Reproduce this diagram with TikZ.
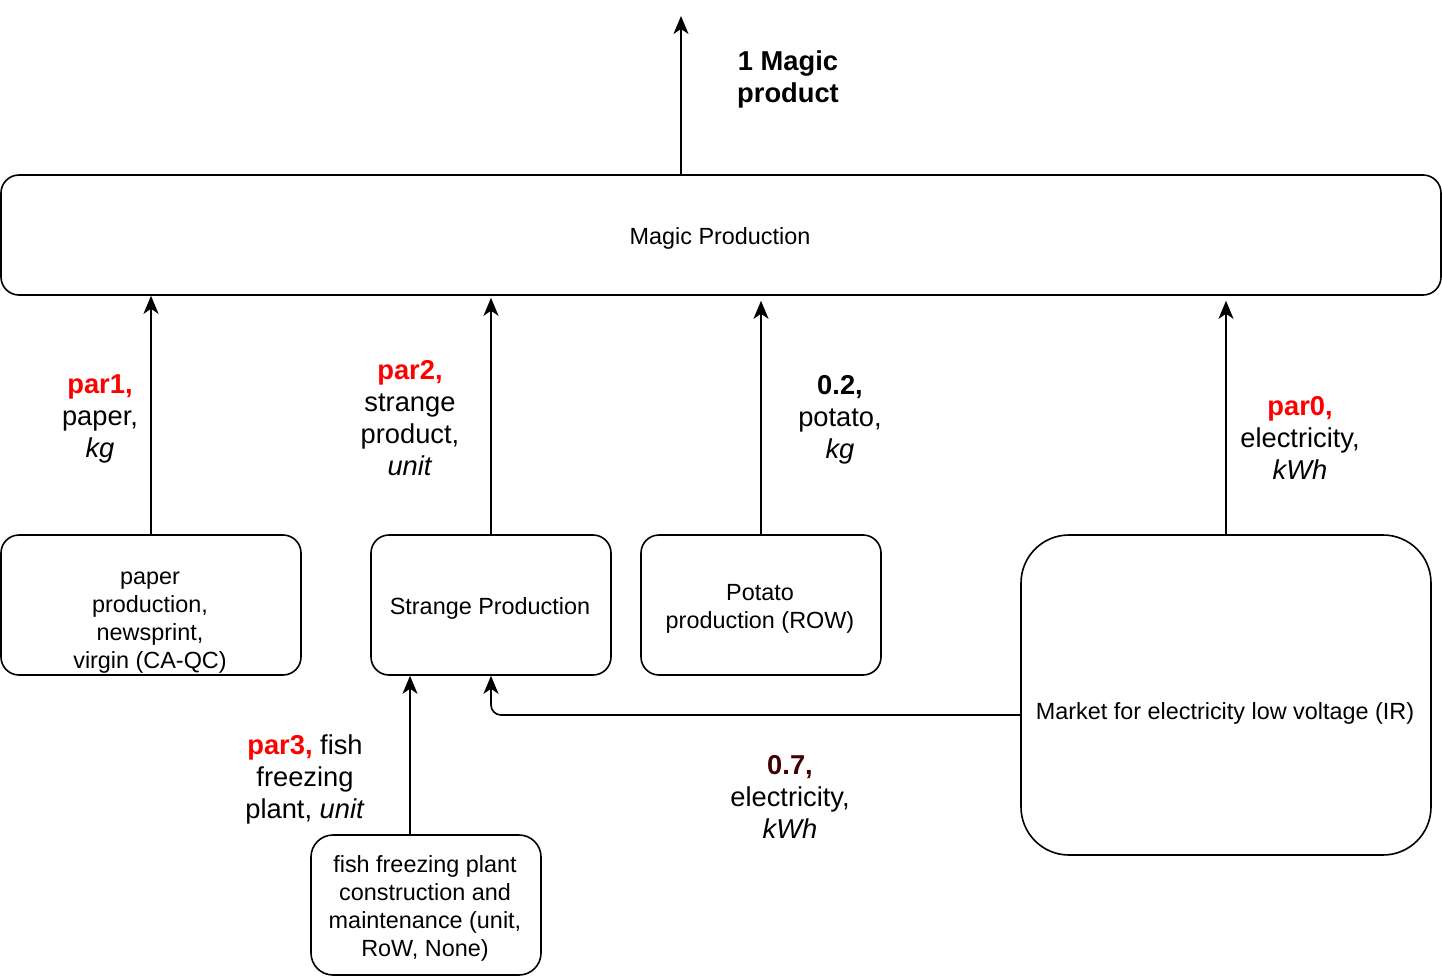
\documentclass[tikz,border=0pt]{standalone}
\usepackage{fontspec}
\setmainfont{Liberation Sans}
\usetikzlibrary{arrows.meta}
\definecolor{parred}{RGB}{255,0,0}
\definecolor{darkred}{RGB}{64,0,0}
\begin{document}
\begin{tikzpicture}[x=1pt,y=-1pt,
  box/.style={draw=black,line width=1.6pt,rounded corners=18pt,inner sep=0pt,align=center,font=\fontsize{23.4}{28}\selectfont},
  boxtext/.style={inner sep=0pt,align=center,font=\fontsize{23.4}{28}\selectfont},
  lbl/.style={inner sep=0pt,align=center,font=\fontsize{27.3}{32}\selectfont},
  arr/.style={line width=1.6pt,-{Stealth[length=18pt,width=15pt,inset=5pt]}}]
\useasboundingbox (0,0) rectangle (1442,976);
% boxes
\node[box,minimum width=1440pt,minimum height=120pt] (magic) at (721,235) {};
\node[boxtext] (magictext) at (720,238) {Magic Production};
\node[box,minimum width=300pt,minimum height=140pt] (paper) at (151,605) {};
\node[boxtext] (papertext) at (150,623) {paper\\production,\\newsprint,\\virgin (CA-QC)};
\node[box,minimum width=240pt,minimum height=140pt] (strange) at (491,605) {};
\node[boxtext] (strangetext) at (490,608) {Strange Production};
\node[box,minimum width=240pt,minimum height=140pt] (potato) at (761,605) {};
\node[boxtext] (potatotext) at (760,609) {Potato\\production (ROW)};
\node[box,rounded corners=48pt,minimum width=410pt,minimum height=320pt] (market) at (1226,695) {};
\node[boxtext] (markettext) at (1225,713) {Market for electricity low voltage (IR)};
\node[box,rounded corners=22pt,minimum width=230pt,minimum height=140pt] (fish) at (426,905) {};
\node[boxtext] (fishtext) at (425,908) {fish freezing plant\\construction and\\maintenance (unit,\\RoW, None)};
% connectors
\coordinate (top) at (681,16);
\draw[arr] (magic.north -| top) -- (top);
\draw[arr] (paper.north) -- (paper.north |- magic.south);
\draw[arr] (strange.north) -- ([yshift=-2pt]strange.north |- magic.south);
\draw[arr] (potato.north) -- ([yshift=-5pt]potato.north |- magic.south);
\draw[arr] (market.north) -- ([yshift=-5pt]market.north |- magic.south);
\coordinate (fishx) at (410,0);
\draw[arr] (fish.north -| fishx) -- (strange.south -| fishx);
\coordinate (elecy) at (0,715);
\draw[arr,rounded corners=10pt] (market.west |- elecy) -- (strange.south |- elecy) -- (strange.south);
% labels
\node[lbl,font=\fontsize{27.3}{32}\selectfont\bfseries] (out) at (788,79) {1 Magic\\product};
\node[lbl] (l1) at (100,419) {\textcolor{parred}{\textbf{par1,}}\\paper,\\\textit{kg}};
\node[lbl] (l2) at (410,418) {\textcolor{parred}{\textbf{par2,}}\\strange\\product,\\\textit{unit}};
\node[lbl] (l3) at (840,420) {\textbf{0.2,}\\potato,\\\textit{kg}};
\node[lbl] (l0) at (1300,438) {\textcolor{parred}{\textbf{par0,}}\\electricity,\\\textit{kWh}};
\node[lbl] (l4) at (305,779) {\textcolor{parred}{\textbf{par3,}} fish\\freezing\\plant, \textit{unit}};
\node[lbl] (l5) at (790,797) {\textcolor{darkred}{\textbf{0.7,}}\\electricity,\\\textit{kWh}};
\end{tikzpicture}
\end{document}
